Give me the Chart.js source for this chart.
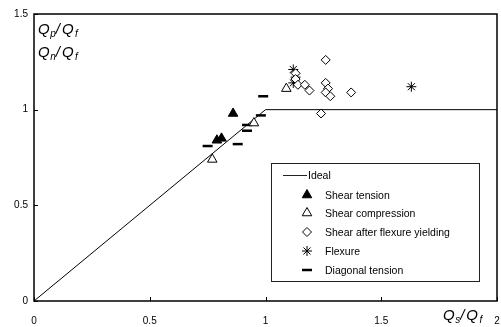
<!DOCTYPE html>
<html><head><meta charset="utf-8">
<script src="https://cdn.jsdelivr.net/npm/chart.js@4/dist/chart.umd.min.js"></script>
<style>html,body{margin:0;padding:0;background:#fff}canvas{display:block}</style>
</head><body>
<canvas id="c" width="501" height="327"></canvas>
<script>
// ---- data ----
const xTicks = [0, 0.5, 1, 1.5, 2];
const yTicks = [0, 0.5, 1, 1.5];
const idealX = [0, 1, 2];
const idealY = [0, 1, 1];
const shearTensionX = [0.79, 0.81, 0.86];
const shearTensionY = [0.84, 0.85, 0.98];
const shearCompX = [0.77, 0.95, 1.09];
const shearCompY = [0.74, 0.93, 1.11];
const afterYieldX = [1.13, 1.13, 1.14, 1.17, 1.19, 1.24, 1.26, 1.26, 1.27, 1.26, 1.28, 1.37];
const afterYieldY = [1.19, 1.16, 1.13, 1.13, 1.10, 0.98, 1.26, 1.14, 1.11, 1.09, 1.07, 1.09];
const flexureX = [1.12, 1.13, 1.12, 1.63];
const flexureY = [1.21, 1.17, 1.14, 1.12];
const diagTensionX = [0.75, 0.88, 0.92, 0.92, 0.98, 0.99];
const diagTensionY = [0.81, 0.82, 0.92, 0.89, 0.97, 1.07];
const seriesNames = ['Ideal', 'Shear tension', 'Shear compression', 'Shear after flexure yielding', 'Flexure', 'Diagonal tension'];

const pts = (xs, ys) => xs.map((x, i) => ({x: x, y: ys[i]}));

const styles = [
  null,
  {pointStyle: 'triangle', radius: 5.5, fill: '#000', borderWidth: 1},
  {pointStyle: 'triangle', radius: 5.5, fill: '#fff', borderWidth: 1},
  {pointStyle: 'rectRot', radius: 4.5, fill: '#fff', borderWidth: 1},
  {pointStyle: 'star', radius: 5, fill: '#fff', borderWidth: 1},
  {pointStyle: 'line', radius: 5, fill: '#000', borderWidth: 2.5}
];
const seriesData = [pts(idealX, idealY), pts(shearTensionX, shearTensionY), pts(shearCompX, shearCompY),
  pts(afterYieldX, afterYieldY), pts(flexureX, flexureY), pts(diagTensionX, diagTensionY)];

const datasets = seriesNames.map((name, i) => {
  if (i === 0) {
    return {type: 'line', label: name, data: seriesData[0], borderColor: '#000', borderWidth: 1,
      pointRadius: 0, fill: false, tension: 0, order: 10};
  }
  const s = styles[i];
  return {type: 'scatter', label: name, data: seriesData[i], pointStyle: s.pointStyle,
    pointRadius: s.radius, pointHoverRadius: s.radius, pointBackgroundColor: s.fill,
    pointBorderColor: '#000', pointBorderWidth: s.borderWidth, order: i};
});

function drawMarker(ctx, s, x, y) {
  ctx.save();
  ctx.fillStyle = s.fill; ctx.strokeStyle = '#000'; ctx.lineWidth = s.borderWidth;
  if (Chart.helpers && Chart.helpers.drawPoint) {
    Chart.helpers.drawPoint(ctx, {pointStyle: s.pointStyle, radius: s.radius, borderWidth: s.borderWidth, rotation: 0}, x, y);
  }
  ctx.restore();
}

function drawRatio(ctx, x, y, sub1) {
  ctx.save();
  ctx.fillStyle = '#000';
  ctx.textBaseline = 'alphabetic';
  ctx.textAlign = 'left';
  const big = 'italic 15px "Liberation Sans", Arial, sans-serif';
  const small = 'italic 10px "Liberation Sans", Arial, sans-serif';
  ctx.font = big; ctx.fillText('Q', x, y); x += ctx.measureText('Q').width + 0.5;
  ctx.font = small; ctx.fillText(sub1, x, y + 3); x += ctx.measureText(sub1).width;
  ctx.font = big; ctx.fillText('/', x, y); x += ctx.measureText('/').width + 2;
  ctx.fillText('Q', x, y); x += ctx.measureText('Q').width + 1.5;
  ctx.font = small; ctx.fillText('f', x, y + 3);
  ctx.restore();
}

const decor = {
  id: 'decor',
  afterDraw(chart) {
    const ctx = chart.ctx, a = chart.chartArea;
    const xs = chart.scales.x, ys = chart.scales.y;
    ctx.save();
    ctx.strokeStyle = '#000';
    ctx.lineWidth = 1.5;
    ctx.strokeRect(a.left, a.top, a.right - a.left, a.bottom - a.top);
    ctx.lineWidth = 1;
    // inward ticks
    xTicks.forEach(v => {
      const px = Math.round(xs.getPixelForValue(v)) + 0.5;
      ctx.beginPath(); ctx.moveTo(px, a.bottom); ctx.lineTo(px, a.bottom - 4); ctx.stroke();
    });
    yTicks.forEach(v => {
      const py = Math.round(ys.getPixelForValue(v)) + 0.5;
      ctx.beginPath(); ctx.moveTo(a.left, py); ctx.lineTo(a.left + 4, py); ctx.stroke();
    });
    // axis titles
    drawRatio(ctx, 38, 34, 'p');
    drawRatio(ctx, 38, 57, 'n');
    drawRatio(ctx, 443, 320, 's');
    // legend
    const L = 271, T = 163, R = 479, B = 281;
    ctx.fillStyle = '#fff';
    ctx.fillRect(L, T, R - L, B - T);
    ctx.strokeStyle = '#222'; ctx.lineWidth = 1;
    ctx.strokeRect(L + 0.5, T + 0.5, R - L, B - T);
    ctx.font = '10.5px "Liberation Sans", Arial, sans-serif';
    ctx.fillStyle = '#000'; ctx.textBaseline = 'middle'; ctx.textAlign = 'left';
    const rowY = [175, 195, 213, 232, 251, 270];
    // Ideal line
    ctx.beginPath(); ctx.moveTo(283, rowY[0] + 0.5); ctx.lineTo(307, rowY[0] + 0.5); ctx.stroke();
    ctx.fillText(seriesNames[0], 308, rowY[0] + 1);
    for (let i = 1; i < seriesNames.length; i++) {
      drawMarker(ctx, styles[i], 307, rowY[i]);
      ctx.fillStyle = '#000';
      ctx.fillText(seriesNames[i], 325, rowY[i] + 1);
    }
    ctx.restore();
  }
};

const bg = {
  id: 'bg',
  beforeDraw(chart) {
    const ctx = chart.ctx;
    ctx.save(); ctx.fillStyle = '#fff'; ctx.fillRect(0, 0, chart.width, chart.height); ctx.restore();
  }
};

new Chart(document.getElementById('c'), {
  type: 'scatter',
  data: {datasets: datasets},
  options: {
    responsive: false,
    animation: false,
    devicePixelRatio: 1,
    layout: {autoPadding: false, padding: {top: 14, right: 4, left: 0, bottom: 0}},
    plugins: {legend: {display: false}, tooltip: {enabled: false}},
    scales: {
      x: {
        type: 'linear', min: 0, max: 2,
        afterBuildTicks: s => { s.ticks = xTicks.map(v => ({value: v})); },
        afterFit: s => { s.height = 26; s.paddingLeft = 0; s.paddingRight = 0; },
        grid: {display: false, drawTicks: false},
        border: {display: false},
        ticks: {color: '#000', padding: 14, maxRotation: 0, autoSkip: false,
          font: {size: 10, family: '"Liberation Sans", Arial, sans-serif'},
          callback: v => String(v)}
      },
      y: {
        type: 'linear', min: 0, max: 1.5,
        afterBuildTicks: s => { s.ticks = yTicks.map(v => ({value: v})); },
        afterFit: s => { s.width = 34; s.paddingTop = 0; s.paddingBottom = 0; },
        grid: {display: false, drawTicks: false},
        border: {display: false},
        ticks: {color: '#000', padding: 6, autoSkip: false,
          font: {size: 10, family: '"Liberation Sans", Arial, sans-serif'},
          callback: v => String(v)}
      }
    }
  },
  plugins: [bg, decor]
});
</script>
</body></html>
